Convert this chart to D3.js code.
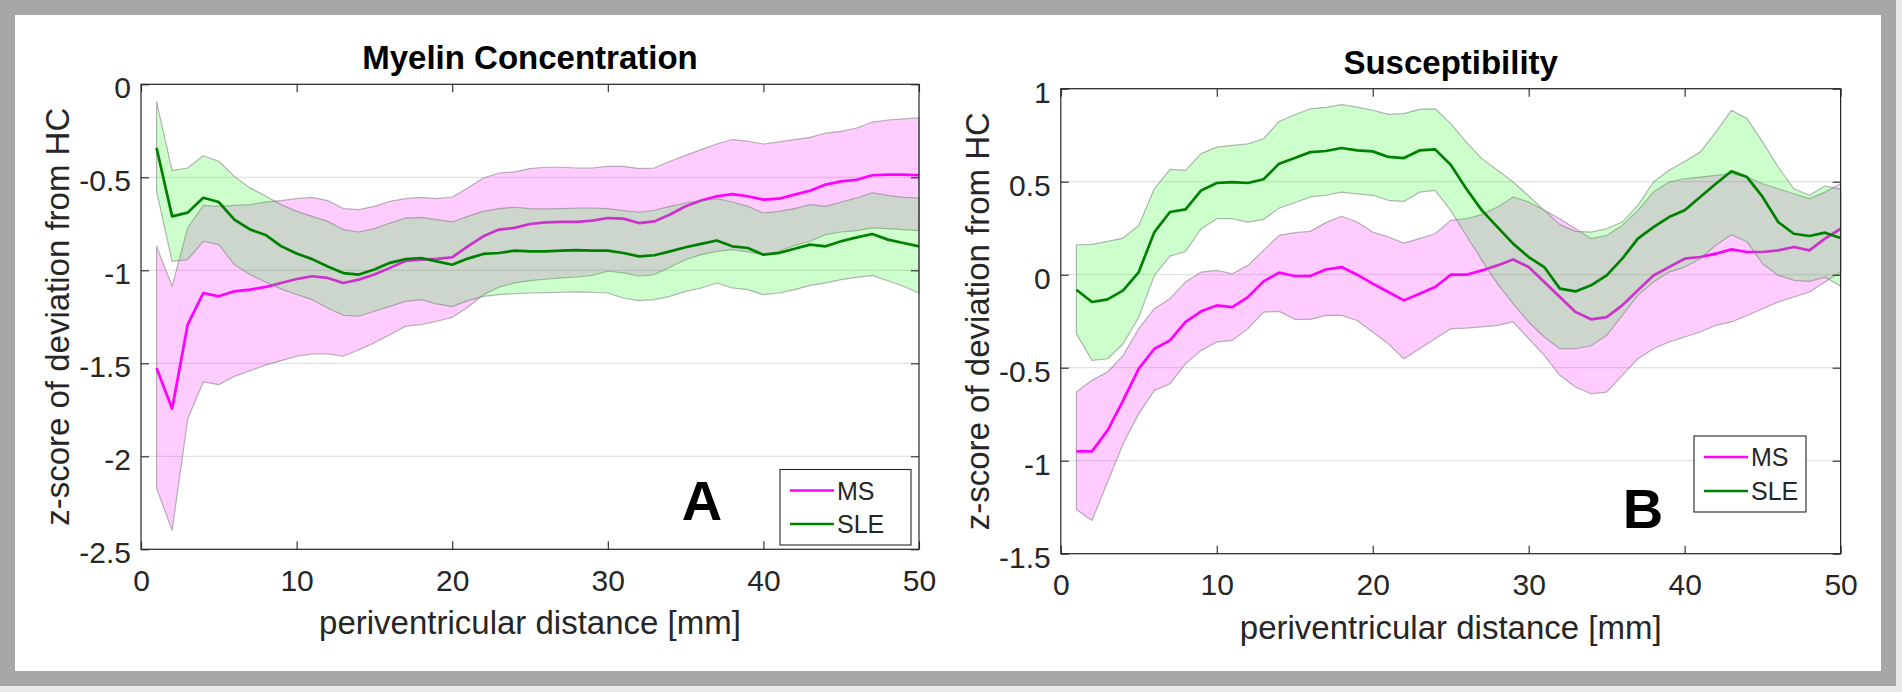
<!DOCTYPE html>
<html>
<head>
<meta charset="utf-8">
<script src="https://cdn.jsdelivr.net/npm/d3@7"></script>
<style>
  html, body { margin: 0; padding: 0; background: #e9e9e9; overflow: hidden; }
  svg { display: block; font-family: "Liberation Sans", Arial, Helvetica, sans-serif; }
</style>
</head>
<body>
<svg id="chart" width="1902" height="692"></svg>
<script>
// periventricular distance [mm]
const distance = [1, 2, 3, 4, 5, 6, 7, 8, 9, 10, 11, 12, 13, 14, 15, 16, 17, 18, 19, 20,
    21, 22, 23, 24, 25, 26, 27, 28, 29, 30, 31, 32, 33, 34, 35, 36, 37, 38, 39, 40,
    41, 42, 43, 44, 45, 46, 47, 48, 49, 50];

const groups = ['MS', 'SLE'];

// A: myelin concentration
const myelinMsMean = [-1.525, -1.744, -1.292, -1.122, -1.14, -1.113, -1.104, -1.09, -1.068, -1.047,
    -1.032, -1.041, -1.068, -1.05, -1.023, -0.987, -0.95, -0.943, -0.939, -0.93,
    -0.871, -0.817, -0.781, -0.772, -0.751, -0.742, -0.74, -0.74, -0.733, -0.719,
    -0.722, -0.746, -0.737, -0.70, -0.656, -0.625, -0.602, -0.59, -0.602, -0.62,
    -0.615, -0.593, -0.572, -0.539, -0.522, -0.513, -0.489, -0.486, -0.486, -0.489];
const myelinMsUpper = [-0.871, -1.086, -0.772, -0.651, -0.656, -0.651, -0.647, -0.633, -0.625, -0.615,
    -0.608, -0.625, -0.668, -0.674, -0.656, -0.629, -0.615, -0.608, -0.615, -0.606,
    -0.557, -0.504, -0.477, -0.471, -0.453, -0.446, -0.446, -0.45, -0.45, -0.441,
    -0.441, -0.453, -0.45, -0.414, -0.382, -0.351, -0.321, -0.297, -0.306, -0.321,
    -0.31, -0.297, -0.285, -0.262, -0.253, -0.235, -0.203, -0.192, -0.186, -0.181];
const myelinMsLower = [-2.17, -2.398, -1.80, -1.60, -1.615, -1.57, -1.54, -1.51, -1.486, -1.462,
    -1.45, -1.45, -1.462, -1.427, -1.39, -1.346, -1.30, -1.292, -1.274, -1.253,
    -1.199, -1.131, -1.091, -1.068, -1.056, -1.048, -1.041, -1.036, -1.027, -1.005,
    -1.014, -1.032, -1.023, -0.984, -0.943, -0.916, -0.898, -0.889, -0.901, -0.916,
    -0.898, -0.867, -0.844, -0.808, -0.794, -0.787, -0.772, -0.776, -0.781, -0.787];
const myelinSleMean = [-0.342, -0.71, -0.69, -0.61, -0.633, -0.728, -0.78, -0.81, -0.87, -0.91,
    -0.94, -0.98, -1.015, -1.023, -0.996, -0.96, -0.94, -0.934, -0.952, -0.97,
    -0.937, -0.912, -0.907, -0.894, -0.898, -0.898, -0.894, -0.891, -0.894, -0.894,
    -0.907, -0.925, -0.919, -0.898, -0.876, -0.858, -0.84, -0.871, -0.88, -0.916,
    -0.907, -0.884, -0.862, -0.871, -0.844, -0.823, -0.805, -0.835, -0.853, -0.871];
const myelinSleUpper = [-0.095, -0.464, -0.45, -0.384, -0.414, -0.495, -0.557, -0.60, -0.647, -0.683,
    -0.71, -0.737, -0.781, -0.794, -0.776, -0.746, -0.719, -0.715, -0.728, -0.74,
    -0.71, -0.683, -0.668, -0.661, -0.668, -0.67, -0.668, -0.665, -0.665, -0.668,
    -0.679, -0.688, -0.677, -0.656, -0.638, -0.625, -0.615, -0.633, -0.656, -0.692,
    -0.683, -0.668, -0.647, -0.656, -0.633, -0.611, -0.584, -0.597, -0.608, -0.611];
const myelinSleLower = [-0.575, -0.952, -0.943, -0.844, -0.862, -0.97, -1.023, -1.063, -1.10, -1.13,
    -1.158, -1.203, -1.242, -1.247, -1.22, -1.194, -1.167, -1.158, -1.181, -1.195,
    -1.163, -1.14, -1.131, -1.125, -1.122, -1.12, -1.118, -1.116, -1.118, -1.122,
    -1.149, -1.163, -1.158, -1.14, -1.113, -1.095, -1.068, -1.095, -1.104, -1.131,
    -1.122, -1.104, -1.081, -1.068, -1.05, -1.038, -1.027, -1.056, -1.086, -1.122];

// B: susceptibility
const suscMsMean = [-0.95, -0.95, -0.837, -0.676, -0.505, -0.398, -0.353, -0.254, -0.197, -0.165,
    -0.174, -0.12, -0.036, 0.011, -0.007, -0.007, 0.028, 0.041, 0.0, -0.048,
    -0.093, -0.138, -0.102, -0.066, 0.0, 0.0, 0.023, 0.05, 0.082, 0.041,
    -0.039, -0.12, -0.2, -0.24, -0.228, -0.165, -0.084, -0.004, 0.041, 0.086,
    0.095, 0.113, 0.136, 0.122, 0.122, 0.131, 0.149, 0.131, 0.194, 0.247];
const suscMsUpper = [-0.631, -0.568, -0.523, -0.434, -0.29, -0.183, -0.129, -0.039, 0.014, 0.023,
    0.005, 0.05, 0.131, 0.211, 0.226, 0.233, 0.28, 0.314, 0.283, 0.229,
    0.203, 0.17, 0.194, 0.22, 0.292, 0.301, 0.323, 0.364, 0.418, 0.391,
    0.346, 0.301, 0.247, 0.194, 0.211, 0.265, 0.346, 0.444, 0.498, 0.516,
    0.525, 0.534, 0.543, 0.525, 0.489, 0.462, 0.435, 0.409, 0.444, 0.489];
const suscMsLower = [-1.263, -1.321, -1.115, -0.909, -0.747, -0.622, -0.586, -0.478, -0.407, -0.362,
    -0.353, -0.29, -0.201, -0.197, -0.24, -0.24, -0.219, -0.219, -0.246, -0.308,
    -0.371, -0.452, -0.398, -0.344, -0.29, -0.287, -0.281, -0.272, -0.254, -0.344,
    -0.434, -0.541, -0.604, -0.64, -0.631, -0.541, -0.452, -0.398, -0.362, -0.335,
    -0.308, -0.272, -0.254, -0.219, -0.183, -0.147, -0.12, -0.093, -0.039, 0.014];
const suscSleMean = [-0.081, -0.147, -0.133, -0.084, 0.014, 0.229, 0.337, 0.351, 0.453, 0.493,
    0.498, 0.493, 0.513, 0.597, 0.627, 0.659, 0.665, 0.681, 0.668, 0.663,
    0.633, 0.627, 0.668, 0.674, 0.591, 0.462, 0.346, 0.256, 0.167, 0.095,
    0.041, -0.075, -0.09, -0.057, -0.004, 0.086, 0.194, 0.256, 0.31, 0.346,
    0.418, 0.489, 0.556, 0.525, 0.418, 0.283, 0.22, 0.208, 0.226, 0.197];
const suscSleUpper = [0.161, 0.163, 0.179, 0.197, 0.265, 0.462, 0.566, 0.561, 0.651, 0.686,
    0.695, 0.703, 0.731, 0.824, 0.86, 0.892, 0.90, 0.914, 0.901, 0.884,
    0.862, 0.866, 0.889, 0.892, 0.812, 0.713, 0.624, 0.561, 0.498, 0.423,
    0.346, 0.269, 0.233, 0.229, 0.247, 0.283, 0.373, 0.498, 0.561, 0.609,
    0.659, 0.767, 0.884, 0.839, 0.713, 0.579, 0.462, 0.427, 0.477, 0.459];
const suscSleLower = [-0.317, -0.461, -0.452, -0.371, -0.228, -0.004, 0.10, 0.125, 0.247, 0.301,
    0.301, 0.283, 0.297, 0.358, 0.387, 0.418, 0.427, 0.444, 0.435, 0.427,
    0.40, 0.394, 0.444, 0.453, 0.346, 0.211, 0.077, -0.048, -0.156, -0.254,
    -0.335, -0.398, -0.398, -0.382, -0.326, -0.219, -0.111, -0.039, 0.014, 0.041,
    0.086, 0.158, 0.215, 0.176, 0.059, -0.004, -0.03, -0.036, -0.013, -0.061];

const xTicks = [0, 10, 20, 30, 40, 50];
const myelinTicks = [0, -0.5, -1, -1.5, -2, -2.5];
const suscTicks = [1, 0.5, 0, -0.5, -1, -1.5];

const colors = { MS: '#ff00ff', SLE: '#008000' };
const bandColors = { MS: '#ff00ff', SLE: '#00ff00' };
const ink = '#262626';

const svg = d3.select('#chart');

// grey frame round the figure
svg.append('rect').attr('x', 0).attr('y', 0).attr('width', 1896).attr('height', 686)
    .attr('fill', '#a7a7a7');
svg.append('rect').attr('x', 15).attr('y', 15).attr('width', 1866).attr('height', 656)
    .attr('fill', '#ffffff');

const panels = [
    {
        title: 'Myelin Concentration', letter: 'A',
        box: { left: 141, right: 919, top: 84.3, bottom: 549.3 },
        yDomain: [-2.5, 0], yTicks: myelinTicks,
        series: {
            MS: { mean: myelinMsMean, upper: myelinMsUpper, lower: myelinMsLower },
            SLE: { mean: myelinSleMean, upper: myelinSleUpper, lower: myelinSleLower },
        },
        legend: { x: 780, y: 469.5, w: 131, h: 75.5 },
        letterPos: { x: 702, y: 520 },
        yLabelX: 69,
    },
    {
        title: 'Susceptibility', letter: 'B',
        box: { left: 1060.8, right: 1840.6, top: 88.7, bottom: 553.7 },
        yDomain: [-1.5, 1], yTicks: suscTicks,
        series: {
            MS: { mean: suscMsMean, upper: suscMsUpper, lower: suscMsLower },
            SLE: { mean: suscSleMean, upper: suscSleUpper, lower: suscSleLower },
        },
        legend: { x: 1694, y: 436, w: 112, h: 76 },
        letterPos: { x: 1643, y: 528 },
        yLabelX: 989,
    },
];

function drawPanel(p) {
    const { left, right, top, bottom } = p.box;
    const x = d3.scaleLinear().domain([0, 50]).range([left, right]);
    const y = d3.scaleLinear().domain(p.yDomain).range([bottom, top]);
    const g = svg.append('g');
    const tickLen = 8;

    // horizontal grid
    g.append('g')
        .selectAll('line')
        .data(p.yTicks)
        .enter()
        .append('line')
        .attr('x1', left).attr('x2', right)
        .attr('y1', d => y(d)).attr('y2', d => y(d))
        .style('stroke', '#e2e2e2')
        .style('stroke-width', 1.2);

    const area = d3.area()
        .x(d => x(d.x))
        .y0(d => y(d.lo))
        .y1(d => y(d.hi));
    const line = d3.line()
        .x(d => x(d.x))
        .y(d => y(d.v));

    groups.forEach(name => {
        const s = p.series[name];
        const band = distance.map((d, i) => ({ x: d, lo: s.lower[i], hi: s.upper[i] }));
        const mean = distance.map((d, i) => ({ x: d, v: s.mean[i] }));

        g.append('path')
            .datum(band)
            .attr('d', area)
            .style('fill', bandColors[name])
            .style('fill-opacity', 0.2)
            .style('stroke', '#7a7a7a')
            .style('stroke-opacity', 0.55)
            .style('stroke-width', 1.2)
            .style('stroke-linejoin', 'round');

        g.append('path')
            .datum(mean)
            .attr('d', line)
            .style('fill', 'none')
            .style('stroke', colors[name])
            .style('stroke-width', 2.7)
            .style('stroke-linejoin', 'round');
    });

    // axes with inward ticks, labels on left and bottom only
    const fmt = d => String(d);
    const xAxis = g.append('g')
        .attr('transform', `translate(0,${bottom})`)
        .call(d3.axisBottom(x).tickValues(xTicks).tickSizeInner(-tickLen).tickSizeOuter(0)
            .tickPadding(20).tickFormat(fmt));
    const yAxis = g.append('g')
        .attr('transform', `translate(${left},0)`)
        .call(d3.axisLeft(y).tickValues(p.yTicks).tickSizeInner(-tickLen).tickSizeOuter(0)
            .tickPadding(10).tickFormat(fmt));
    g.append('g')
        .attr('transform', `translate(0,${top})`)
        .call(d3.axisTop(x).tickValues(xTicks).tickSizeInner(-tickLen).tickSizeOuter(0).tickFormat(''));
    g.append('g')
        .attr('transform', `translate(${right},0)`)
        .call(d3.axisRight(y).tickValues(p.yTicks).tickSizeInner(-tickLen).tickSizeOuter(0).tickFormat(''));

    g.selectAll('.domain').remove();
    g.selectAll('.tick line').style('stroke', ink).style('stroke-width', 1.1);
    g.selectAll('.tick text')
        .style('font-family', '"Liberation Sans", Arial, sans-serif')
        .style('font-size', '30px')
        .style('fill', ink);
    yAxis.selectAll('.tick text').attr('dy', '0.45em');
    xAxis.selectAll('.tick text').attr('dy', '0.71em');

    g.append('rect')
        .attr('x', left).attr('y', top)
        .attr('width', right - left).attr('height', bottom - top)
        .style('fill', 'none')
        .style('stroke', ink)
        .style('stroke-width', 1.2);

    // title and axis labels
    g.append('text')
        .attr('x', (left + right) / 2)
        .attr('y', top - 15)
        .attr('text-anchor', 'middle')
        .style('font-size', '33px')
        .style('font-weight', 'bold')
        .style('fill', '#000')
        .text(p.title);

    g.append('text')
        .attr('x', (left + right) / 2)
        .attr('y', bottom + 85)
        .attr('text-anchor', 'middle')
        .style('font-size', '33px')
        .style('fill', ink)
        .text('periventricular distance [mm]');

    g.append('text')
        .attr('transform', `translate(${p.yLabelX},${(top + bottom) / 2}) rotate(-90)`)
        .attr('text-anchor', 'middle')
        .style('font-size', '33px')
        .style('fill', ink)
        .text('z-score of deviation from HC');

    g.append('text')
        .attr('x', p.letterPos.x)
        .attr('y', p.letterPos.y)
        .attr('text-anchor', 'middle')
        .style('font-size', '56px')
        .style('font-weight', 'bold')
        .style('fill', '#000')
        .text(p.letter);

    // legend
    const L = p.legend;
    const lg = g.append('g').attr('transform', `translate(${L.x},${L.y})`);
    lg.append('rect')
        .attr('width', L.w).attr('height', L.h)
        .style('fill', '#fff')
        .style('stroke', ink)
        .style('stroke-width', 1.1);
    const rowY = d3.scalePoint().domain(groups).range([21, L.h - 21]);
    const row = lg.selectAll('.entry')
        .data(groups)
        .enter()
        .append('g')
        .attr('class', 'entry')
        .attr('transform', d => `translate(0,${rowY(d)})`);
    row.append('line')
        .attr('x1', 10).attr('x2', 54)
        .style('stroke', d => colors[d])
        .style('stroke-width', 2.7);
    row.append('text')
        .attr('x', 57)
        .attr('dy', '0.36em')
        .style('font-size', '25px')
        .style('fill', ink)
        .text(d => d);
}

panels.forEach(drawPanel);
</script>
</body>
</html>
